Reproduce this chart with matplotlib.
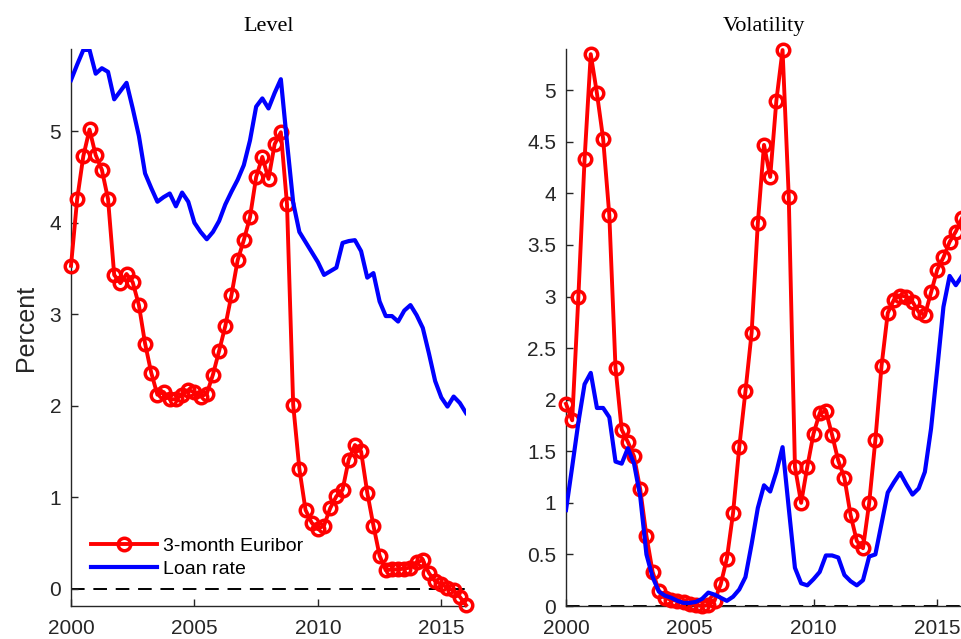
import matplotlib
matplotlib.use("Agg")
import matplotlib.pyplot as plt
from matplotlib.ticker import FuncFormatter

# ---------------- data (quarterly, 2000Q1 .. 2016Q1) ----------------
quarters = [2000 + q / 4 for q in range(65)]

euribor_level = [3.53, 4.26, 4.73, 5.02, 4.74, 4.58, 4.26, 3.43, 3.34, 3.44,
                 3.35, 3.10, 2.68, 2.36, 2.12, 2.15, 2.07, 2.07, 2.12, 2.17,
                 2.15, 2.10, 2.13, 2.34, 2.60, 2.87, 3.21, 3.59, 3.81, 4.06,
                 4.50, 4.72, 4.48, 4.86, 4.99, 4.20, 2.01, 1.31, 0.86, 0.72,
                 0.65, 0.69, 0.88, 1.01, 1.08, 1.41, 1.57, 1.50, 1.05, 0.69,
                 0.36, 0.20, 0.21, 0.21, 0.22, 0.23, 0.29, 0.31, 0.17, 0.08,
                 0.05, 0.01, -0.02, -0.09, -0.18]

loan_level = [5.56, 5.73, 5.89, 5.89, 5.63, 5.69, 5.65, 5.35, 5.44, 5.53,
              5.25, 4.95, 4.54, 4.38, 4.23, 4.28, 4.32, 4.18, 4.33, 4.23,
              4.00, 3.90, 3.82, 3.90, 4.02, 4.20, 4.34, 4.47, 4.63, 4.90,
              5.27, 5.36, 5.25, 5.42, 5.57, 4.88, 4.22, 3.90, 3.79, 3.68,
              3.57, 3.43, 3.47, 3.51, 3.78, 3.80, 3.81, 3.69, 3.40, 3.45,
              3.14, 2.98, 2.98, 2.92, 3.04, 3.10, 2.99, 2.85, 2.57, 2.27,
              2.09, 1.99, 2.10, 2.03, 1.92]

euribor_vol = [1.96, 1.80, 3.00, 4.33, 5.35, 4.97, 4.53, 3.79, 2.31, 1.71,
               1.59, 1.45, 1.13, 0.68, 0.33, 0.15, 0.08, 0.06, 0.05, 0.04,
               0.02, 0.01, 0.00, 0.01, 0.05, 0.21, 0.46, 0.90, 1.54, 2.08,
               2.65, 3.71, 4.47, 4.16, 4.90, 5.39, 3.97, 1.35, 1.00, 1.35,
               1.67, 1.87, 1.89, 1.66, 1.41, 1.24, 0.88, 0.63, 0.56, 1.00,
               1.61, 2.33, 2.84, 2.97, 3.01, 3.00, 2.95, 2.85, 2.82, 3.04,
               3.26, 3.38, 3.53, 3.63, 3.76]

loan_vol = [0.93, 1.35, 1.78, 2.15, 2.26, 1.92, 1.92, 1.83, 1.40, 1.38,
            1.53, 1.38, 1.06, 0.50, 0.28, 0.14, 0.10, 0.08, 0.05, 0.03,
            0.03, 0.04, 0.07, 0.13, 0.11, 0.08, 0.05, 0.09, 0.16, 0.28,
            0.60, 0.95, 1.17, 1.11, 1.30, 1.54, 0.95, 0.37, 0.22, 0.20,
            0.26, 0.33, 0.49, 0.49, 0.47, 0.30, 0.24, 0.20, 0.25, 0.48,
            0.50, 0.80, 1.10, 1.20, 1.29, 1.18, 1.08, 1.14, 1.30, 1.72,
            2.30, 2.90, 3.20, 3.11, 3.20]

xticks = [2000, 2005, 2010, 2015]
level_yticks = [0, 1, 2, 3, 4, 5]
vol_yticks = [0, 0.5, 1, 1.5, 2, 2.5, 3, 3.5, 4, 4.5, 5]

# ---------------- figure ----------------
plt.rcParams['font.family'] = ['Liberation Sans', 'DejaVu Sans']
W, H = 962, 639
fig = plt.figure(figsize=(W / 100, H / 100), dpi=100)
fig.patch.set_facecolor('white')

ax_color = '#262626'
red = '#ff0000'
blue = '#0000ff'


def style(ax, yticks):
    for s in ['top', 'right']:
        ax.spines[s].set_visible(False)
    for s in ['left', 'bottom']:
        ax.spines[s].set_color(ax_color)
        ax.spines[s].set_linewidth(1.0)
    ax.set_xticks(xticks)
    ax.set_yticks(yticks)
    ax.yaxis.set_major_formatter(FuncFormatter(lambda v, p: '%g' % v))
    ax.tick_params(direction='in', length=5, width=1.0, colors=ax_color,
                   labelsize=15)
    ax.tick_params(axis='x', pad=9)
    ax.tick_params(axis='y', pad=7)
    ax.set_xlim(2000, 2016)


ax1 = fig.add_axes([71 / W, 1 - 606 / H, 395 / W, 557 / H])
ax2 = fig.add_axes([566 / W, 1 - 606 / H, 396 / W, 557 / H])

for ax, eur, loan in [(ax1, euribor_level, loan_level), (ax2, euribor_vol, loan_vol)]:
    ax.axhline(0, color='black', linestyle=(0, (7, 4.5)), linewidth=1.4, zorder=1)
    ax.plot(quarters, eur, color=red, linewidth=2.8, marker='o', markersize=9,
            markerfacecolor='none', markeredgewidth=2.5, markeredgecolor=red,
            label='3-month Euribor', zorder=3, clip_on=False)
    ax.plot(quarters, loan, color=blue, linewidth=3.0, label='Loan rate',
            zorder=4)

style(ax1, level_yticks)
style(ax2, vol_yticks)
ax1.set_ylim(-0.19, 5.90)
ax2.set_ylim(0, 5.40)

ax1.set_title('Level', family=['Liberation Serif', 'DejaVu Serif'], fontsize=16,
              color='black', pad=13)
ax2.set_title('Volatility', family=['Liberation Serif', 'DejaVu Serif'], fontsize=16,
              color='black', pad=13)
ax1.set_ylabel('Percent', fontsize=18, color=ax_color, labelpad=8)

leg = ax1.legend(loc='lower left', bbox_to_anchor=(0.02, 0.03), frameon=False,
                 fontsize=14, handlelength=3.4, handletextpad=0.3,
                 labelspacing=0.25, borderaxespad=0.2)
for t in leg.get_texts():
    t.set_color('black')

fig.savefig('out.png', dpi=100, facecolor='white')
